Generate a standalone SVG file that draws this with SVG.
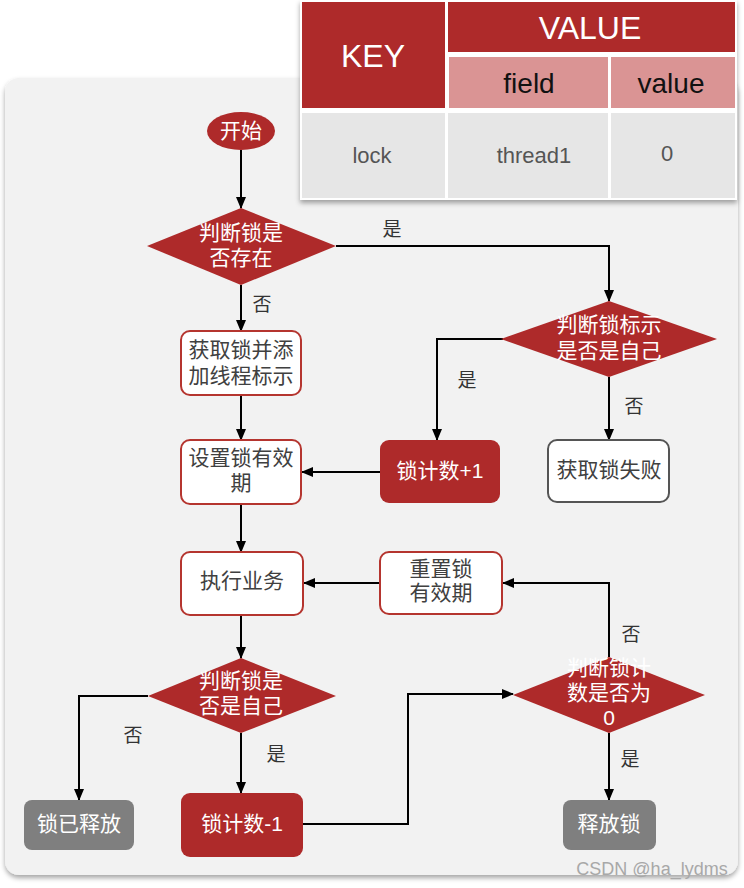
<svg xmlns="http://www.w3.org/2000/svg" width="744" height="888" viewBox="0 0 744 888">
<style>
text{font-family:"Liberation Sans","Noto Sans CJK SC",sans-serif;text-anchor:middle}
.w{fill:#ffffff;font-size:21px}
.d{fill:#404040;font-size:21px}
.lb{fill:#333333;font-size:19px}
.red{fill:#ae2a2a}
.wbox{fill:#ffffff;stroke:#b5352f;stroke-width:2}
.gbox{fill:#7f7f7f}
.conn path{fill:none;stroke:#000;stroke-width:2}
</style>
<defs>
<marker id="ah" viewBox="0 0 12 12" refX="11" refY="6" markerWidth="12" markerHeight="12" markerUnits="userSpaceOnUse" orient="auto">
<path d="M0,1 L12,6 L0,11 Z" fill="#000"/>
</marker>
<filter id="sh" x="-5%" y="-5%" width="110%" height="110%">
<feDropShadow dx="0" dy="3" stdDeviation="2.5" flood-color="#000" flood-opacity="0.35"/>
</filter>
</defs>
<rect width="744" height="888" fill="#ffffff"/>
<g id="panel">
<rect x="5" y="78" width="733" height="797" rx="14" fill="#f2f2f2" filter="url(#sh)"/>
</g>
<g id="table">
<rect x="300" y="0" width="437" height="200" fill="#ffffff" filter="url(#sh)"/>
<rect x="302" y="2" width="143" height="106" class="red"/>
<rect x="448" y="2" width="287" height="50" class="red"/>
<rect x="449" y="57" width="159" height="51" fill="#da9494"/>
<rect x="611" y="57" width="124" height="51" fill="#da9494"/>
<rect x="302" y="113" width="143" height="85" fill="#e6e6e6"/>
<rect x="448" y="113" width="160" height="85" fill="#e6e6e6"/>
<rect x="611" y="113" width="124" height="85" fill="#e6e6e6"/>
<text x="373" y="67" fill="#ffffff" font-size="32">KEY</text>
<text x="590" y="39" fill="#ffffff" font-size="32">VALUE</text>
<text x="529" y="93" fill="#111111" font-size="28">field</text>
<text x="671" y="93" fill="#111111" font-size="28">value</text>
<text x="372" y="163" fill="#555555" font-size="22">lock</text>
<text x="534" y="163" fill="#555555" font-size="22">thread1</text>
<text x="667" y="161" fill="#555555" font-size="22">0</text>
</g>
<g class="conn" id="connectors">
<path d="M241,150 V208" marker-end="url(#ah)"/>
<path d="M336,246 H609 V301" marker-end="url(#ah)"/>
<path d="M241,285 V331" marker-end="url(#ah)"/>
<path d="M503,339 H437 V440" marker-end="url(#ah)"/>
<path d="M609,377 V440" marker-end="url(#ah)"/>
<path d="M241,395 V440" marker-end="url(#ah)"/>
<path d="M380,472 H302" marker-end="url(#ah)"/>
<path d="M241,504 V552" marker-end="url(#ah)"/>
<path d="M380,583 H304" marker-end="url(#ah)"/>
<path d="M241,615 V658" marker-end="url(#ah)"/>
<path d="M148,696 H79 V800" marker-end="url(#ah)"/>
<path d="M241,733 V793" marker-end="url(#ah)"/>
<path d="M303,824 H408 V694 H513" marker-end="url(#ah)"/>
<path d="M609,657 V583 H503" marker-end="url(#ah)"/>
<path d="M609,733 V800" marker-end="url(#ah)"/>
</g>
<g id="labels">
<text x="392" y="236" class="lb">是</text>
<text x="262" y="311" class="lb">否</text>
<text x="467" y="387" class="lb">是</text>
<text x="634" y="413" class="lb">否</text>
<text x="133" y="742" class="lb">否</text>
<text x="276" y="761" class="lb">是</text>
<text x="631" y="641" class="lb">否</text>
<text x="630" y="766" class="lb">是</text>
</g>
<g id="start">
<ellipse cx="241" cy="131" rx="34" ry="19" class="red"/>
<text x="241" y="138" class="w">开始</text>
</g>
<g id="d1">
<polygon points="241,208 336,246 241,285 147,246" class="red"/>
<text x="241" y="240" class="w">判断锁是</text>
<text x="241" y="265" class="w">否存在</text>
</g>
<g id="d2">
<polygon points="609,301 717,339 609,377 501,339" class="red"/>
<text x="609" y="332" class="w">判断锁标示</text>
<text x="609" y="358" class="w">是否是自己</text>
</g>
<g id="n_get">
<rect x="181" y="331" width="120" height="64" rx="9" class="wbox"/>
<text x="241" y="357" class="d">获取锁并添</text>
<text x="241" y="383" class="d">加线程标示</text>
</g>
<g id="n_set">
<rect x="181" y="440" width="120" height="64" rx="9" class="wbox"/>
<text x="241" y="465" class="d">设置锁有效</text>
<text x="241" y="490" class="d">期</text>
</g>
<g id="n_inc">
<rect x="380" y="440" width="120" height="63" rx="9" class="red"/>
<text x="440" y="478" class="w">锁计数+1</text>
</g>
<g id="n_fail">
<rect x="548" y="440" width="121" height="62" rx="9" fill="#ffffff" stroke="#555555" stroke-width="2"/>
<text x="609" y="477" class="d">获取锁失败</text>
</g>
<g id="n_exec">
<rect x="181" y="552" width="122" height="63" rx="9" class="wbox"/>
<text x="242" y="588" class="d">执行业务</text>
</g>
<g id="n_reset">
<rect x="380" y="552" width="122" height="62" rx="9" class="wbox"/>
<text x="441" y="576" class="d">重置锁</text>
<text x="441" y="600" class="d">有效期</text>
</g>
<g id="d3">
<polygon points="241,658 336,696 241,733 148,696" class="red"/>
<text x="241" y="688" class="w">判断锁是</text>
<text x="241" y="713" class="w">否是自己</text>
</g>
<g id="d4">
<polygon points="609,657 705,695 609,733 513,695" class="red"/>
<text x="609" y="675" class="w">判断锁计</text>
<text x="609" y="700" class="w">数是否为</text>
<text x="609" y="725" class="w">0</text>
</g>
<g id="n_released">
<rect x="24" y="800" width="110" height="50" rx="8" class="gbox"/>
<text x="79" y="831" class="w">锁已释放</text>
</g>
<g id="n_dec">
<rect x="181" y="793" width="122" height="64" rx="9" class="red"/>
<text x="242" y="831" class="w">锁计数-1</text>
</g>
<g id="n_release">
<rect x="563" y="800" width="93" height="50" rx="8" class="gbox"/>
<text x="609" y="831" class="w">释放锁</text>
</g>
<text x="652" y="875" fill="#a8a8a8" font-size="18">CSDN @ha_lydms</text>
</svg>
